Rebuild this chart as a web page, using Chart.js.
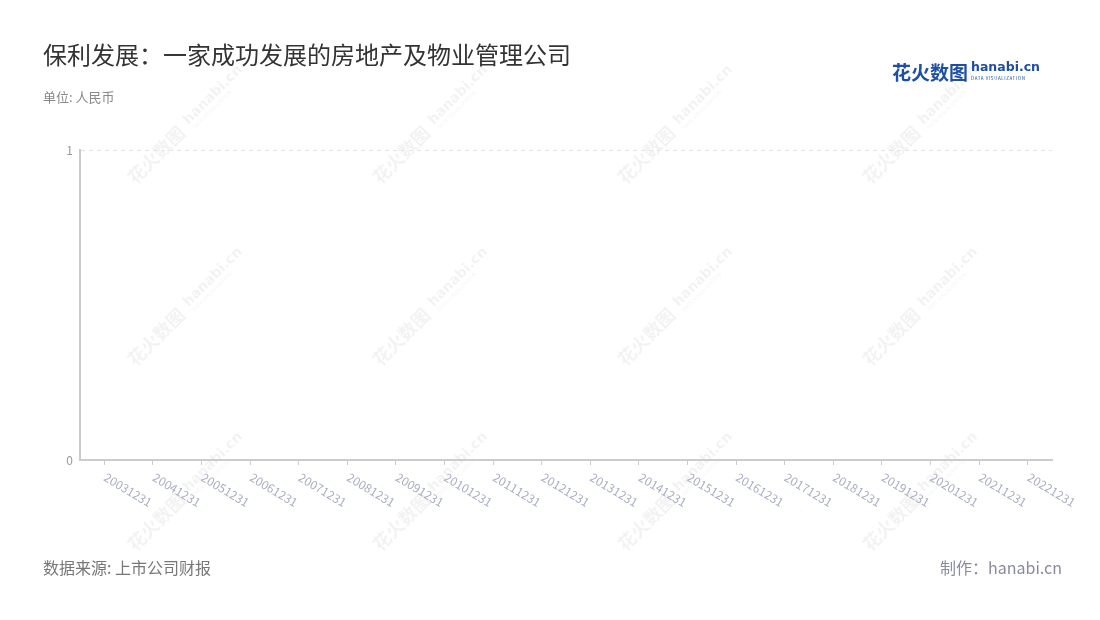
<!DOCTYPE html>
<html>
<head>
<meta charset="utf-8">
<script src="https://cdn.jsdelivr.net/npm/chart.js@4"></script>
<style>
  html, body { margin: 0; padding: 0; background: #fff; }
  body { width: 1100px; height: 620px; position: relative; overflow: hidden;
         font-family: "Noto Sans CJK SC", "Noto Sans", sans-serif; }
  #wrap { position: absolute; left: 0; top: 0; width: 1100px; height: 620px; }
  .title { position: absolute; left: 43px; top: 36px; font-size: 24px; color: #333; }
  .unit { position: absolute; left: 43px; top: 87px; font-size: 13px; color: #888; }
  .source { position: absolute; left: 43px; top: 555px; font-size: 16px; color: #777; }
  .maker { position: absolute; right: 38px; top: 555px; font-size: 16px; color: #8a8a9e; }
  .logo { position: absolute; left: 892px; top: 58px; color: #1e4fa3; white-space: nowrap; }
  .logo .cn { font-size: 19px; font-weight: bold; vertical-align: top; }
  .logo .en { display: inline-block; vertical-align: top; margin-left: 3px; line-height: 1; }
  .logo .en b { font-family: "DejaVu Sans", sans-serif; font-size: 12.5px; display: block; margin-top: 3px; }
  .logo .en i { font-style: normal; font-size: 4.5px; letter-spacing: 0.6px; display: block; margin-top: 2px; }
</style>
</head>
<body>
<div id="wrap"><canvas id="chart" width="1100" height="620"></canvas></div>
<div class="title">保利发展：一家成功发展的房地产及物业管理公司</div>
<div class="unit">单位: 人民币</div>
<div class="logo"><span class="cn">花火数图</span><span class="en"><b>hanabi.cn</b><i>DATA VISUALIZATION</i></span></div>
<div class="source">数据来源: 上市公司财报</div>
<div class="maker">制作：hanabi.cn</div>
<script>
// 报告期
const periods = ['20031231', '20041231', '20051231', '20061231', '20071231',
  '20081231', '20091231', '20101231', '20111231', '20121231', '20131231',
  '20141231', '20151231', '20161231', '20171231', '20181231', '20191231',
  '20201231', '20211231', '20221231'];
// 原图没有数据点
const values = [null, null, null, null, null, null, null, null, null, null,
  null, null, null, null, null, null, null, null, null, null];
const yTicks = [0, 1];

// x轴标签 (顺时针旋转)
const xLabels = {
  id: 'xLabels',
  afterDraw(chart) {
    const sc = chart.scales.x;
    const ctx = chart.ctx;
    ctx.save();
    ctx.font = '12px "Noto Sans CJK SC", "Noto Sans", sans-serif';
    ctx.fillStyle = '#a9aec2';
    ctx.textAlign = 'left';
    ctx.textBaseline = 'top';
    periods.forEach((p, i) => {
      const x = sc.getPixelForTick(i);
      ctx.save();
      ctx.translate(x + 4, sc.top + 11);
      ctx.rotate(31 * Math.PI / 180);
      ctx.fillText(p, 0, 0);
      ctx.restore();
    });
    ctx.restore();
  }
};

// 水印
const watermark = {
  id: 'watermark',
  beforeDraw(chart) {
    const ctx = chart.ctx;
    ctx.save();
    ctx.fillStyle = 'rgba(0,0,0,0.05)';
    [183, 428, 673, 918].forEach(cx => {
      [128, 310, 495].forEach(cy => {
        ctx.save();
        ctx.translate(cx, cy);
        ctx.rotate(-Math.PI / 4);
        ctx.textBaseline = 'middle';
        ctx.font = 'bold 18px "Noto Sans CJK SC", sans-serif';
        ctx.fillText('花火数图', -74, 0);
        ctx.font = 'bold 14px "DejaVu Sans", sans-serif';
        ctx.fillText('hanabi.cn', 6, -2);
        ctx.font = '5px "DejaVu Sans", sans-serif';
        ctx.fillText('DATA VISUALIZATION', 7, 8);
        ctx.restore();
      });
    });
    ctx.restore();
  }
};

new Chart(document.getElementById('chart'), {
  type: 'line',
  data: {
    labels: periods,
    datasets: [{
      label: '保利发展',
      data: values,
      borderColor: '#3b6fd8',
      borderWidth: 2,
      pointRadius: 0
    }]
  },
  options: {
    responsive: false,
    animation: false,
    devicePixelRatio: 1,
    layout: { padding: { left: 50, right: 48, top: 150, bottom: 100 } },
    plugins: { legend: { display: false }, tooltip: { enabled: false } },
    scales: {
      x: {
        type: 'category',
        offset: true,
        grid: { display: true, drawOnChartArea: false, drawTicks: true, tickLength: 5, color: '#ccc', offset: false },
        border: { display: true, color: '#ccc', width: 2 },
        ticks: { display: false },
        afterFit: s => { s.height = 60; }
      },
      y: {
        min: yTicks[0],
        max: yTicks[yTicks.length - 1],
        afterBuildTicks: s => { s.ticks = yTicks.map(v => ({ value: v })); },
        grid: { color: '#e3e3e3', drawTicks: false },
        border: { display: true, color: '#ccc', width: 2, dash: [4, 4] },
        ticks: { color: '#999', font: { size: 12, family: '"Noto Sans CJK SC", "Noto Sans", sans-serif' }, padding: 7 },
        afterFit: s => { s.width = 30; }
      }
    }
  },
  plugins: [watermark, xLabels]
});
</script>
</body>
</html>
